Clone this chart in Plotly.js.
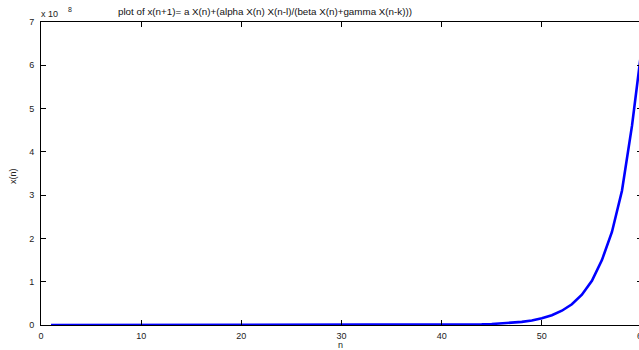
<!DOCTYPE html>
<html>
<head>
<meta charset="utf-8">
<script src="https://cdn.plot.ly/plotly-3.0.1.min.js"></script>
<style>
  html, body { margin: 0; padding: 0; overflow: hidden; background: #fff; }
  #chart { width: 643px; height: 350px; }
</style>
</head>
<body>
<div id="chart"></div>
<script>
// Iteration index n and the computed sequence x(n)
const n = [];
for (let i = 1; i <= 60; i++) n.push(i);

const xn = [
  0.5, 0.5, 0.5, 0.6, 0.8, 1.0, 1.4, 2.0, 2.9, 4.2,
  6.1, 9, 13, 19, 27, 40, 58, 85, 125, 180,
  265, 385, 560, 820, 1200, 1750, 2600, 3700, 5500, 8000,
  11600, 17000, 25000, 36000, 53000, 77000, 112000, 164000, 240000, 350000,
  510000, 740000, 1080000, 1580000, 2300000, 3400000, 4900000, 7200000, 10500000, 15500000,
  22500000, 33000000, 48000000, 70000000, 102000000, 150000000, 215000000, 310000000, 460000000, 645000000
];

const xTicks = [0, 10, 20, 30, 40, 50, 60];
const yTicks = [0, 1e8, 2e8, 3e8, 4e8, 5e8, 6e8, 7e8];
const yTickText = ['0', '1', '2', '3', '4', '5', '6', '7'];

const titleText = 'plot of x(n+1)= a X(n)+(alpha X(n) X(n-l)/(beta X(n)+gamma X(n-k)))';
const FONT = '"Liberation Sans", Arial, Helvetica, sans-serif';

const trace = {
  x: n,
  y: xn,
  type: 'scatter',
  mode: 'lines',
  line: { color: '#0000ff', width: 2.6 },
  hoverinfo: 'skip'
};

const axisCommon = {
  showgrid: false,
  zeroline: false,
  showline: true,
  linecolor: '#000',
  linewidth: 1,
  mirror: 'ticks',
  ticks: 'inside',
  ticklen: 5,
  tickwidth: 1,
  tickcolor: '#000',
  tickfont: { family: FONT, size: 9, color: '#222' },
  ticklabeloverflow: 'allow',
  fixedrange: true
};

const layout = {
  width: 643,
  height: 350,
  margin: { l: 41, r: 1, t: 22, b: 25, pad: 0 },
  paper_bgcolor: '#fff',
  plot_bgcolor: '#fff',
  showlegend: false,
  font: { family: FONT, size: 9, color: '#222' },
  title: {
    text: titleText,
    font: { family: FONT, size: 9.8, color: '#111' },
    xref: 'container', yref: 'container',
    x: 265 / 643, xanchor: 'center',
    y: 1 - 12 / 350, yanchor: 'middle'
  },
  xaxis: Object.assign({}, axisCommon, {
    range: [0, 60],
    tickmode: 'array',
    tickvals: xTicks,
    ticktext: xTicks.map(String),
    ticklabelstandoff: 2
  }),
  yaxis: Object.assign({}, axisCommon, {
    range: [0, 7e8],
    tickmode: 'array',
    tickvals: yTicks,
    ticktext: yTickText,
    ticklabelstandoff: 4
  }),
  annotations: [
    { text: 'n', xref: 'paper', yref: 'paper', x: (340 - 41) / 601, y: (325 - 345) / 303,
      xanchor: 'center', yanchor: 'middle', showarrow: false,
      font: { family: FONT, size: 9, color: '#222' } },
    { text: 'x(n)', xref: 'paper', yref: 'paper', x: (13 - 41) / 601, y: (325 - 176) / 303,
      xanchor: 'center', yanchor: 'middle', textangle: -90, showarrow: false,
      font: { family: FONT, size: 9, color: '#222' } },
    { text: 'x 10', xref: 'paper', yref: 'paper', x: (49 - 41) / 601, y: (325 - 14) / 303,
      xanchor: 'center', yanchor: 'middle', showarrow: false,
      font: { family: FONT, size: 9, color: '#222' } },
    { text: '8', xref: 'paper', yref: 'paper', x: (70 - 41) / 601, y: (325 - 9) / 303,
      xanchor: 'center', yanchor: 'middle', showarrow: false,
      font: { family: FONT, size: 7, color: '#222' } }
  ]
};

Plotly.newPlot('chart', [trace], layout, { displayModeBar: false, staticPlot: true });
</script>
</body>
</html>
